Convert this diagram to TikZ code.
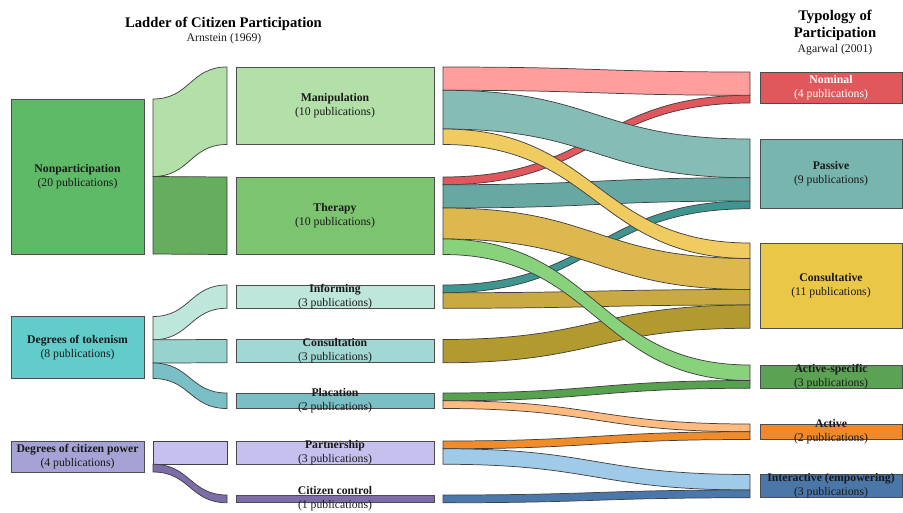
\documentclass[tikz,border=0pt]{standalone}
\usepackage{fontspec}
\setmainfont{Liberation Serif}
\definecolor{nonpartC}{HTML}{5EBA66}
\definecolor{tokenC}{HTML}{62CCCB}
\definecolor{powerC}{HTML}{A5A3D5}
\definecolor{manipC}{HTML}{B3E0A8}
\definecolor{therapyC}{HTML}{7DC470}
\definecolor{therapyL}{HTML}{66AD5D}
\definecolor{informC}{HTML}{BEE6DA}
\definecolor{consultC}{HTML}{A2D8D4}
\definecolor{consultL}{HTML}{97D2CF}
\definecolor{placatC}{HTML}{7BBFC6}
\definecolor{partnerC}{HTML}{C6C0EE}
\definecolor{controlC}{HTML}{7C6DA8}
\definecolor{nominalC}{HTML}{E0575C}
\definecolor{passiveC}{HTML}{77B5AE}
\definecolor{consultvC}{HTML}{EBC748}
\definecolor{actspecC}{HTML}{5BA255}
\definecolor{activeC}{HTML}{F0892A}
\definecolor{interC}{HTML}{4B76A8}
\definecolor{pinkL}{HTML}{FF9E9C}
\definecolor{tealM}{HTML}{85BDB6}
\definecolor{yellowL}{HTML}{F0CB60}
\definecolor{redL}{HTML}{E0575C}
\definecolor{tealT}{HTML}{68A8A2}
\definecolor{goldL}{HTML}{DDB84F}
\definecolor{greenL}{HTML}{88D27C}
\definecolor{darktealL}{HTML}{3F9690}
\definecolor{oliveL}{HTML}{C9AA42}
\definecolor{darkoliveL}{HTML}{B39A2E}
\definecolor{greenP}{HTML}{57A24E}
\definecolor{peachL}{HTML}{FFBB80}
\definecolor{orangeL}{HTML}{F18C2B}
\definecolor{lightblueL}{HTML}{9FCBE8}
\definecolor{blueL}{HTML}{4B78AA}
\tikzset{
  box/.style={draw=black!70, line width=0.7pt},
  flow/.style={draw=black!75, line width=0.55pt},
  lbl/.style={align=center, inner sep=0pt, font=\fontsize{8.8}{10.5}\selectfont, text=black!90},
  ttl/.style={align=center, inner sep=0pt, font=\fontsize{11}{12.75}\selectfont\bfseries},
}
% band: colour, x0, top0, bottom0, x1, top1, bottom1
\newcommand\band[7]{%
  \path[flow,fill=#1] (#2,#3) .. controls ({(#2+#5)/2},#3) and ({(#2+#5)/2},#6) .. (#5,#6)
    -- (#5,#7) .. controls ({(#2+#5)/2},#7) and ({(#2+#5)/2},#4) .. (#2,#4) -- cycle;}
\begin{document}
\begin{tikzpicture}[x=0.75pt,y=-0.75pt]
    \useasboundingbox (0,0) rectangle (903,512);
    % titles
    \node[ttl] (ladder) at (223.5,23.5) {Ladder of Citizen Participation};
    \node[lbl] (arnstein) at (224,39) {Arnstein (1969)};
    \node[ttl] (typology) at (835,25) {Typology of\\Participation};
    \node[lbl] (agarwal) at (835,50) {Agarwal (2001)};
    % left column
    \draw[box,fill=nonpartC] (11,99) rectangle (144,254);
    \draw[box,fill=tokenC] (11,316.5) rectangle (144,378.5);
    \draw[box,fill=powerC] (11,441) rectangle (144,472);
    % left flows
    \band{manipC}{153}{99}{176.5}{227}{67}{144.5}
    \band{therapyL}{153}{176.5}{254}{227}{177}{254.5}
    \band{informC}{153}{316.5}{339.75}{227}{285}{308.25}
    \band{consultL}{153}{339.75}{363}{227}{339.5}{362.75}
    \band{placatC}{153}{363}{378.5}{227}{393}{408.5}
    \band{partnerC}{153}{441}{464.25}{227}{441}{464.25}
    \band{controlC}{153}{464.25}{472}{227}{495}{502.75}
    % middle column
    \draw[box,fill=manipC] (236,67) rectangle (434,144.5);
    \draw[box,fill=therapyC] (236,177) rectangle (434,254.5);
    \draw[box,fill=informC] (236,285) rectangle (434,308.25);
    \draw[box,fill=consultC] (236,339.5) rectangle (434,362.75);
    \draw[box,fill=placatC] (236,393) rectangle (434,408.5);
    \draw[box,fill=partnerC] (236,441) rectangle (434,464.25);
    \draw[box,fill=controlC] (236,495) rectangle (434,502.75);
    % right flows
    \band{redL}{443}{177}{184.75}{750}{95.25}{103}
    \band{darktealL}{443}{285}{292.75}{750}{201}{208.75}
    \band{oliveL}{443}{292.75}{308.25}{750}{289.5}{305}
    \band{darkoliveL}{443}{339.5}{362.75}{750}{305}{328.25}
    \band{pinkL}{443}{67}{90.25}{750}{72}{95.25}
    \band{tealM}{443}{90.25}{129}{750}{139}{177.75}
    \band{tealT}{443}{184.75}{208}{750}{177.75}{201}
    \band{goldL}{443}{208}{239}{750}{258.5}{289.5}
    \band{yellowL}{443}{129}{144.5}{750}{243}{258.5}
    \band{greenL}{443}{239}{254.5}{750}{365}{380.5}
    \band{greenP}{443}{393}{400.75}{750}{380.5}{388.25}
    \band{peachL}{443}{400.75}{408.5}{750}{424}{431.75}
    \band{orangeL}{443}{441}{448.75}{750}{431.75}{439.5}
    \band{lightblueL}{443}{448.75}{464.25}{750}{474.5}{490}
    \band{blueL}{443}{495}{502.75}{750}{490}{497.75}
    % right column
    \draw[box,fill=nominalC] (760,72) rectangle (902.5,103);
    \draw[box,fill=passiveC] (760,139) rectangle (902.5,208.75);
    \draw[box,fill=consultvC] (760,243) rectangle (902.5,328.25);
    \draw[box,fill=actspecC] (760,365) rectangle (902.5,388.25);
    \draw[box,fill=activeC] (760,424) rectangle (902.5,439.5);
    \draw[box,fill=interC] (760,474.5) rectangle (902.5,497.75);
    % labels
    \node[lbl] (nonpart) at (77.5,176.5) {\textbf{Nonparticipation}\\(20 publications)};
    \node[lbl] (token) at (77.5,347.5) {\textbf{Degrees of tokenism}\\(8 publications)};
    \node[lbl] (power) at (77.5,456.5) {\textbf{Degrees of citizen power}\\(4 publications)};
    \node[lbl] (manip) at (335,105.75) {\textbf{Manipulation}\\(10 publications)};
    \node[lbl] (therapy) at (335,215.75) {\textbf{Therapy}\\(10 publications)};
    \node[lbl] (inform) at (335,296.6) {\textbf{Informing}\\(3 publications)};
    \node[lbl] (consult) at (335,351.1) {\textbf{Consultation}\\(3 publications)};
    \node[lbl] (placat) at (335,400.75) {\textbf{Placation}\\(2 publications)};
    \node[lbl] (partner) at (335,452.6) {\textbf{Partnership}\\(3 publications)};
    \node[lbl] (control) at (335,498.9) {\textbf{Citizen control}\\(1 publications)};
    \node[lbl,text=white] (nominal) at (831,87.5) {\textbf{Nominal}\\(4 publications)};
    \node[lbl] (passive) at (831,173.9) {\textbf{Passive}\\(9 publications)};
    \node[lbl] (consultv) at (831,285.6) {\textbf{Consultative}\\(11 publications)};
    \node[lbl] (actspec) at (831,376.6) {\textbf{Active-specific}\\(3 publications)};
    \node[lbl] (active) at (831,431.75) {\textbf{Active}\\(2 publications)};
    \node[lbl] (inter) at (831,486.1) {\textbf{Interactive (empowering)}\\(3 publications)};
\end{tikzpicture}
\end{document}
